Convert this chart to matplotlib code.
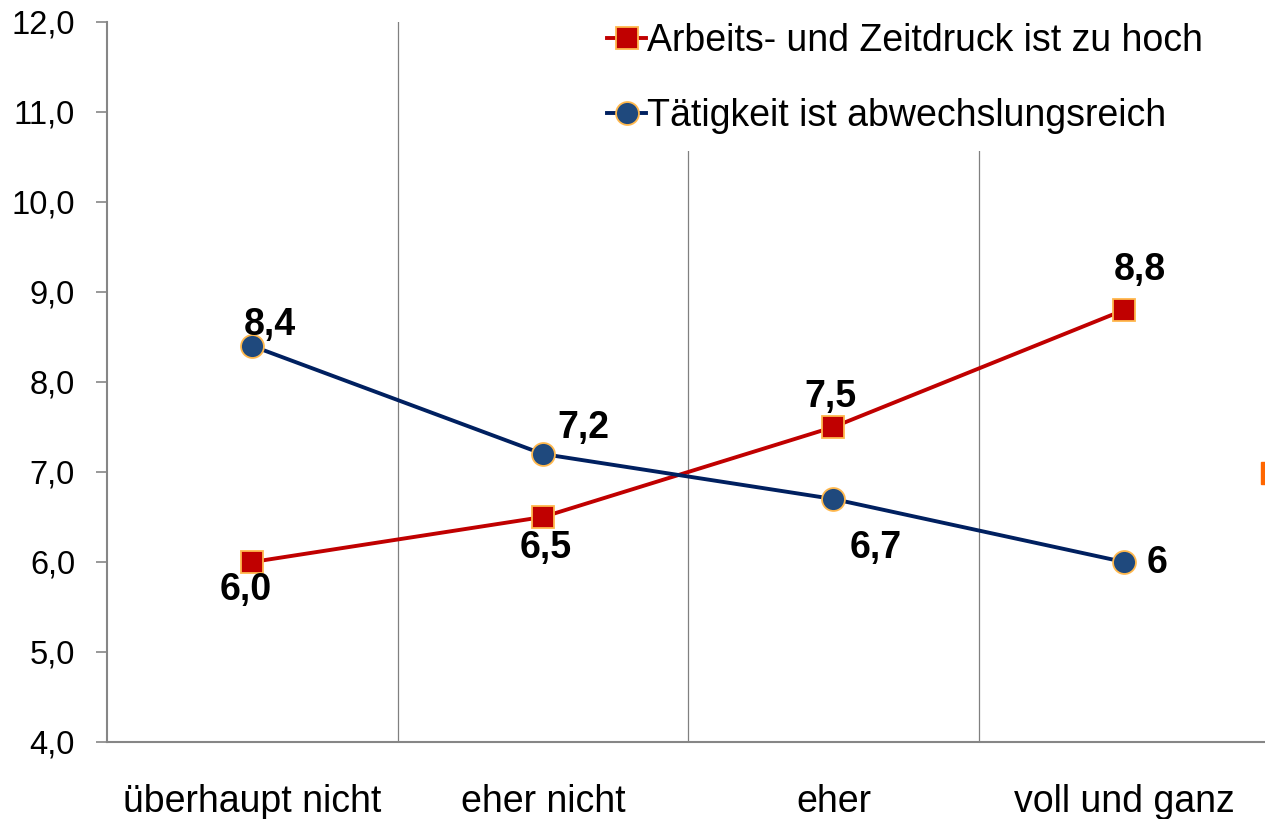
import numpy as np
import matplotlib
matplotlib.use("Agg")
from matplotlib import pyplot as plt
from matplotlib.patches import Rectangle

plt.rcParams['font.family'] = ['Liberation Sans', 'DejaVu Sans']

# data
categories = ['überhaupt nicht', 'eher nicht', 'eher', 'voll und ganz']
druck = [6.0, 6.5, 7.5, 8.8]
abwechslung = [8.4, 7.2, 6.7, 6.0]
druck_labels = ['6,0', '6,5', '7,5', '8,8']
abwechslung_labels = ['8,4', '7,2', '6,7', '6']
yticks = [4, 5, 6, 7, 8, 9, 10, 11, 12]
ytick_labels = ['4,0', '5,0', '6,0', '7,0', '8,0', '9,0', '10,0', '11,0', '12,0']

# label offsets in pixels (dx, dy)
druck_off = [(-7, -28), (3, -31), (-3, 30), (16, 40)]
abw_off = [(18, 21), (41, 26), (42, -49), (33, -1)]

fig = plt.figure(figsize=(12.65, 8.19), dpi=100)
ax = fig.add_axes([107 / 1265, 77 / 819, 1162.3 / 1265, 720 / 819])

x = np.arange(len(categories))
red = '#C00000'
navy = '#002060'
edge = '#FFB84D'

ax.plot(x, druck, color=red, lw=2.8, marker='s', ms=15.5, mfc=red, mec=edge, mew=1.3,
        label='Arbeits- und Zeitdruck ist zu hoch', zorder=3)
ax.plot(x, abwechslung, color=navy, lw=2.8, marker='o', ms=16.5, mfc='#1F497D', mec=edge, mew=1.3,
        label='Tätigkeit ist abwechslungsreich', zorder=3)

for xi, v, t, o in zip(x, druck, druck_labels, druck_off):
    ax.annotate(t, (xi, v), xytext=o, textcoords='offset pixels', ha='center', va='center',
                fontsize=27, fontweight='bold', color='black')
for xi, v, t, o in zip(x, abwechslung, abwechslung_labels, abw_off):
    ax.annotate(t, (xi, v), xytext=o, textcoords='offset pixels', ha='center', va='center',
                fontsize=27, fontweight='bold', color='black')

ax.set_xlim(-0.5, 3.5)
ax.set_ylim(4, 12)
ax.set_xticks(x)
ax.set_xticklabels(categories, fontsize=27)
ax.set_xticks(x[:-1] + 0.5, minor=True)
ax.set_yticks(yticks)
ax.set_yticklabels(ytick_labels, fontsize=23.5)

ax.tick_params(axis='x', which='both', length=0, pad=30)
ax.tick_params(axis='y', length=8, width=1.2, color='#868686', pad=15, direction='out')
ax.grid(axis='x', which='minor', color='#808080', lw=0.9)

for s in ['top', 'right']:
    ax.spines[s].set_visible(False)
for s in ['left', 'bottom']:
    ax.spines[s].set_color('#868686')
    ax.spines[s].set_linewidth(1.5)

leg = ax.legend(loc='upper left', bbox_to_anchor=(590 / 1265, 1 - 6 / 819),
                bbox_transform=fig.transFigure, fontsize=27, frameon=True,
                handlelength=1.05, handletextpad=0.02, labelspacing=1.05,
                borderpad=0.45, borderaxespad=0, fancybox=False, markerscale=1.0)
leg.get_frame().set_facecolor('white')
leg.get_frame().set_edgecolor('none')
leg.get_frame().set_alpha(1)
leg.set_zorder(5)

# clipped orange fragment at right edge
fig.patches.append(Rectangle((1261 / 1265, 1 - 484 / 819), 4 / 1265, 22 / 819,
                             transform=fig.transFigure, color='#FF6600', zorder=10))

fig.savefig('out.png', dpi=100)
